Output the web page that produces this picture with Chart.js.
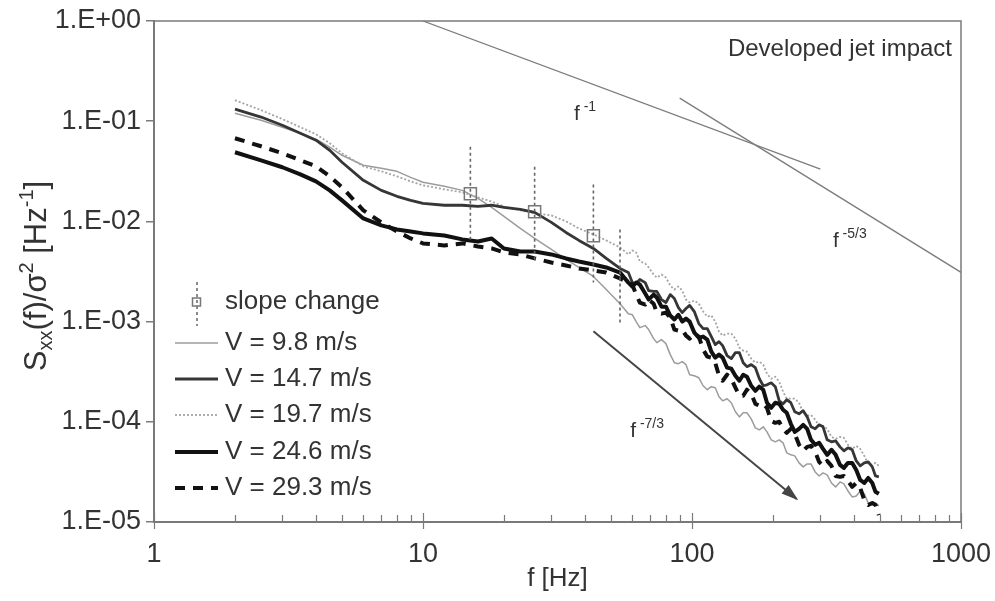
<!DOCTYPE html>
<html>
<head>
<meta charset="utf-8">
<title>Developed jet impact spectra</title>
<script src="https://cdn.jsdelivr.net/npm/chart.js@4.4.1/dist/chart.umd.min.js"></script>
<style>
  html, body { margin: 0; padding: 0; background: #fff; }
</style>
</head>
<body>
<canvas id="spectra" width="995" height="601"></canvas>
<script>
// values (f in Hz, S_xx/sigma^2 in 1/Hz)
const freq = [2, 2.5, 3, 3.5, 4, 4.5, 5, 6, 7, 8, 9, 10, 12, 14, 16, 18, 20, 23, 26, 30, 34, 38, 43, 48, 54,
  58, 60, 62, 64, 67, 69, 72, 74, 77, 80, 83, 86, 89, 92, 95, 98, 102, 106, 110, 114,
  118, 122, 126, 130, 135, 140, 145, 150, 155, 160, 166, 172, 178, 184, 190, 197, 204, 211, 218, 225,
  233, 241, 250, 259, 268, 277, 287, 297, 307, 318, 330, 342, 355, 367, 380, 394, 408, 422, 437, 452,
  468, 481, 495];

const v98 = [1.20e-1, 1.02e-1, 8.71e-2, 7.59e-2, 6.61e-2, 5.50e-2, 4.57e-2, 3.63e-2, 3.39e-2, 3.16e-2, 2.75e-2, 2.46e-2,
  2.24e-2, 2.04e-2, 1.70e-2, 1.38e-2, 1.12e-2, 8.51e-3, 6.76e-3, 5.25e-3, 4.17e-3, 3.47e-3, 2.82e-3, 2.09e-3, 1.51e-3,
  1.20e-3, 1.17e-3, 1.00e-3, 8.71e-4, 9.12e-4, 8.32e-4, 6.76e-4, 6.17e-4, 6.61e-4, 6.03e-4, 4.68e-4, 3.89e-4,
  3.80e-4, 3.98e-4, 3.72e-4, 2.95e-4, 2.88e-4, 2.75e-4, 2.29e-4, 2.09e-4, 2.24e-4, 2.19e-4, 1.78e-4, 1.62e-4,
  1.70e-4, 1.55e-4, 1.26e-4, 1.12e-4, 1.23e-4, 1.23e-4, 1.07e-4, 8.71e-5, 8.32e-5, 8.91e-5, 7.94e-5, 6.61e-5,
  6.31e-5, 6.61e-5, 6.17e-5, 4.90e-5, 4.68e-5, 4.57e-5, 3.89e-5, 3.55e-5, 3.80e-5, 3.80e-5, 3.16e-5, 2.88e-5,
  3.09e-5, 2.95e-5, 2.45e-5, 2.24e-5, 2.51e-5, 2.40e-5, 2.04e-5, 1.78e-5, 1.82e-5, 2.04e-5, 1.91e-5, 1.55e-5,
  1.48e-5, 1.55e-5, 1.45e-5];

const v147 = [1.32e-1, 1.10e-1, 9.12e-2, 7.59e-2, 6.46e-2, 5.13e-2, 3.89e-2, 2.57e-2, 2.04e-2, 1.78e-2, 1.62e-2, 1.51e-2,
  1.45e-2, 1.45e-2, 1.41e-2, 1.45e-2, 1.38e-2, 1.32e-2, 1.23e-2, 9.77e-3, 7.76e-3, 6.46e-3, 5.37e-3, 4.27e-3, 3.39e-3,
  3.09e-3, 2.45e-3, 2.40e-3, 2.63e-3, 2.45e-3, 2.04e-3, 2.00e-3, 2.00e-3, 1.66e-3, 1.55e-3, 1.86e-3, 1.70e-3,
  1.38e-3, 1.23e-3, 1.35e-3, 1.45e-3, 1.26e-3, 9.55e-4, 8.51e-4, 8.51e-4, 7.08e-4, 5.89e-4, 6.31e-4, 5.75e-4,
  4.57e-4, 4.27e-4, 4.90e-4, 4.90e-4, 3.89e-4, 3.55e-4, 3.72e-4, 3.47e-4, 2.69e-4, 2.29e-4, 2.34e-4, 2.45e-4,
  2.24e-4, 1.62e-4, 1.51e-4, 1.66e-4, 1.55e-4, 1.26e-4, 1.20e-4, 1.29e-4, 1.12e-4, 8.91e-5, 8.51e-5, 9.33e-5,
  8.91e-5, 6.61e-5, 6.31e-5, 6.46e-5, 5.62e-5, 5.13e-5, 5.50e-5, 5.25e-5, 4.07e-5, 3.63e-5, 3.89e-5, 3.98e-5,
  3.55e-5, 2.88e-5, 2.82e-5];

const v197 = [1.62e-1, 1.29e-1, 1.05e-1, 8.71e-2, 7.41e-2, 6.03e-2, 4.79e-2, 3.55e-2, 3.16e-2, 2.82e-2, 2.51e-2, 2.29e-2,
  2.09e-2, 1.95e-2, 1.74e-2, 1.58e-2, 1.41e-2, 1.29e-2, 1.20e-2, 1.15e-2, 1.00e-2, 8.51e-3, 7.41e-3, 6.46e-3, 5.50e-3,
  4.68e-3, 5.13e-3, 4.90e-3, 3.98e-3, 3.80e-3, 3.47e-3, 2.95e-3, 2.75e-3, 2.95e-3, 2.75e-3, 2.29e-3, 2.09e-3,
  2.24e-3, 2.04e-3, 1.66e-3, 1.55e-3, 1.62e-3, 1.51e-3, 1.26e-3, 1.12e-3, 1.15e-3, 1.00e-3, 7.94e-4, 7.24e-4,
  7.59e-4, 7.59e-4, 6.76e-4, 5.50e-4, 5.13e-4, 5.01e-4, 4.27e-4, 3.89e-4, 3.98e-4, 3.72e-4, 3.02e-4, 2.69e-4,
  2.82e-4, 2.51e-4, 2.00e-4, 1.70e-4, 1.70e-4, 1.70e-4, 1.55e-4, 1.23e-4, 1.15e-4, 1.17e-4, 1.05e-4, 9.12e-5,
  9.12e-5, 8.51e-5, 7.08e-5, 6.76e-5, 7.08e-5, 6.92e-5, 5.89e-5, 5.37e-5, 5.75e-5, 5.37e-5, 4.57e-5, 3.80e-5,
  3.72e-5, 3.89e-5, 3.63e-5];

const v246 = [4.90e-2, 4.07e-2, 3.47e-2, 2.95e-2, 2.51e-2, 2.04e-2, 1.62e-2, 1.07e-2, 9.12e-3, 8.32e-3, 7.94e-3, 7.59e-3,
  7.24e-3, 6.61e-3, 6.31e-3, 6.76e-3, 5.37e-3, 5.01e-3, 5.01e-3, 4.68e-3, 4.27e-3, 3.98e-3, 3.72e-3, 3.47e-3, 3.09e-3,
  2.45e-3, 2.24e-3, 2.45e-3, 2.34e-3, 1.91e-3, 1.66e-3, 1.86e-3, 1.74e-3, 1.41e-3, 1.41e-3, 1.15e-3, 1.05e-3,
  1.17e-3, 1.00e-3, 1.07e-3, 1.00e-3, 7.76e-4, 6.92e-4, 7.08e-4, 6.61e-4, 5.01e-4, 4.37e-4, 4.68e-4, 4.37e-4,
  3.47e-4, 3.39e-4, 2.88e-4, 2.57e-4, 2.95e-4, 2.82e-4, 2.29e-4, 2.04e-4, 2.24e-4, 2.09e-4, 1.55e-4, 1.38e-4,
  1.55e-4, 1.51e-4, 1.32e-4, 1.23e-4, 9.55e-5, 7.94e-5, 8.51e-5, 9.33e-5, 8.51e-5, 6.61e-5, 5.89e-5, 6.17e-5,
  5.37e-5, 4.68e-5, 5.25e-5, 4.68e-5, 3.72e-5, 3.47e-5, 3.89e-5, 3.89e-5, 3.31e-5, 2.63e-5, 2.45e-5, 2.75e-5,
  2.45e-5, 2.00e-5, 1.91e-5];

const v293 = [6.76e-2, 5.62e-2, 4.79e-2, 4.07e-2, 3.55e-2, 2.82e-2, 2.19e-2, 1.29e-2, 9.77e-3, 7.94e-3, 6.76e-3, 6.03e-3,
  5.75e-3, 6.03e-3, 5.62e-3, 5.37e-3, 4.90e-3, 4.68e-3, 4.27e-3, 3.89e-3, 3.63e-3, 3.39e-3, 3.24e-3, 3.09e-3, 2.69e-3,
  2.45e-3, 2.34e-3, 1.86e-3, 1.55e-3, 1.48e-3, 1.66e-3, 1.51e-3, 1.23e-3, 1.20e-3, 1.23e-3, 1.10e-3, 8.32e-4,
  8.13e-4, 8.32e-4, 7.24e-4, 6.76e-4, 7.59e-4, 7.08e-4, 5.25e-4, 4.47e-4, 4.37e-4, 3.89e-4, 2.88e-4, 2.57e-4,
  2.95e-4, 2.69e-4, 2.19e-4, 1.82e-4, 1.82e-4, 2.09e-4, 1.91e-4, 1.51e-4, 1.45e-4, 1.51e-4, 1.38e-4, 1.02e-4,
  9.77e-5, 1.00e-4, 8.51e-5, 7.76e-5, 8.51e-5, 7.59e-5, 5.89e-5, 5.13e-5, 5.62e-5, 5.75e-5, 5.01e-5, 3.98e-5,
  3.63e-5, 4.07e-5, 3.63e-5, 2.88e-5, 2.82e-5, 2.88e-5, 2.57e-5, 2.24e-5, 2.45e-5, 2.19e-5, 1.66e-5, 1.48e-5,
  1.55e-5, 1.48e-5, 1.17e-5];

// slope change markers: square + dashed range
const slopeF = [15, 26, 43, 54];
const slopeMid = [1.89e-2, 1.25e-2, 7.2e-3, null];
const slopeLo = [6.6e-3, 4.0e-3, 2.46e-3, 9.8e-4];
const slopeHi = [5.56e-2, 3.51e-2, 2.33e-2, 8.3e-3];

// reference power laws
const powM1F = [10, 300];
const powM1S = [1.0, 3.33e-2];
const powM53F = [90, 1000];
const powM53S = [1.7e-1, 3.1e-3];
const powM73F = [43, 245];
const powM73S = [8.0e-4, 1.7e-5];

const xTicks = [1, 2, 3, 4, 5, 6, 7, 8, 9, 10, 20, 30, 40, 50, 60, 70, 80, 90,
  100, 200, 300, 400, 500, 600, 700, 800, 900, 1000];
const xMajor = [1, 10, 100, 1000];
const yTicks = [1e-5, 1e-4, 1e-3, 1e-2, 1e-1, 1];
const yTickLabels = ['1.E-05', '1.E-04', '1.E-03', '1.E-02', '1.E-01', '1.E+00'];

const seriesNames = ['V = 9.8 m/s', 'V = 14.7 m/s', 'V = 19.7 m/s', 'V = 24.6 m/s', 'V = 29.3 m/s'];

// ---- styling ----
const FONT = "'Liberation Sans', Arial, Helvetica, sans-serif";
const TEXT = '#333';
const AXIS = '#7a7a7a';

const seriesStyle = [
  { color: '#9c9c9c', width: 1.5, dash: [] },
  { color: '#363636', width: 2.8, dash: [] },
  { color: '#a4a4a4', width: 1.8, dash: [2, 2] },
  { color: '#111111', width: 4, dash: [] },
  { color: '#111111', width: 4, dash: [10, 8] }
];
const seriesValues = [v98, v147, v197, v246, v293];

const pts = (xs, ys) => xs.map((x, i) => ({ x: x, y: ys[i] }));

const curves = seriesValues.map((vals, i) => ({
  label: seriesNames[i],
  data: pts(freq, vals),
  borderColor: seriesStyle[i].color,
  borderWidth: seriesStyle[i].width,
  borderDash: seriesStyle[i].dash,
  borderJoinStyle: 'round',
  pointRadius: 0,
  tension: 0
}));

const barPts = [];
slopeF.forEach((f, i) => {
  barPts.push({ x: f, y: slopeHi[i] }, { x: f, y: slopeLo[i] }, { x: f, y: null });
});

const refLine = (xs, ys, color, width) => ({
  data: pts(xs, ys), borderColor: color, borderWidth: width, pointRadius: 0, tension: 0
});

// first datasets end up on top
const datasets = [
  {
    label: 'slope change', data: pts(slopeF, slopeMid), showLine: false,
    pointStyle: 'rect', pointRadius: 8.5, pointBorderWidth: 1.5,
    pointBorderColor: '#777', pointBackgroundColor: 'rgba(0,0,0,0)'
  },
  {
    data: barPts, borderColor: '#666', borderWidth: 1.6, borderDash: [3, 3],
    pointRadius: 0, spanGaps: false
  },
  refLine(powM73F, powM73S, '#454545', 2),
  refLine(powM1F, powM1S, '#7d7d7d', 1.3),
  refLine(powM53F, powM53S, '#7d7d7d', 1.3),
  curves[4], curves[3], curves[1], curves[2], curves[0]
];
const ARROW_INDEX = 2;

function richText(ctx, parts, x, y, align) {
  let w = 0;
  parts.forEach(p => { ctx.font = p[1] + 'px ' + FONT; w += ctx.measureText(p[0]).width; });
  let cx = align === 'center' ? x - w / 2 : x;
  parts.forEach(p => {
    ctx.font = p[1] + 'px ' + FONT;
    ctx.fillText(p[0], cx, y + (p[2] || 0));
    cx += ctx.measureText(p[0]).width;
  });
}

const notes = [
  { parts: [['f', 21], [' -1', 14, -9]], f: 36.4, s: 1.03e-1 },
  { parts: [['f', 21], [' -5/3', 14, -9]], f: 334, s: 5.55e-3 },
  { parts: [['f', 21], [' -7/3', 14, -9]], f: 58.9, s: 7.05e-5 }
];

const legendRows = [302, 343, 379, 415, 452, 488];

const decor = {
  id: 'decor',
  afterDraw(chart) {
    const { ctx, chartArea: a, scales } = chart;
    const xs = scales.x, ys = scales.y;
    ctx.save();

    // frame
    ctx.strokeStyle = AXIS;
    ctx.lineWidth = 1.5;
    ctx.strokeRect(a.left, a.top, a.right - a.left, a.bottom - a.top);

    // x tick marks: minor inward, decades crossing
    ctx.lineWidth = 1.2;
    xTicks.forEach(v => {
      const px = Math.round(xs.getPixelForValue(v)) + 0.5;
      const major = xMajor.includes(v);
      ctx.beginPath();
      ctx.moveTo(px, a.bottom + (major ? 7 : 0));
      ctx.lineTo(px, a.bottom - (major ? 9 : 7));
      ctx.stroke();
    });

    // arrow head on the f^-7/3 line
    const m = chart.getDatasetMeta(ARROW_INDEX).data;
    const p0 = m[0], p1 = m[1];
    const ang = Math.atan2(p1.y - p0.y, p1.x - p0.x);
    const L = 15, W = 5.5;
    ctx.fillStyle = '#454545';
    ctx.beginPath();
    ctx.moveTo(p1.x + 2 * Math.cos(ang), p1.y + 2 * Math.sin(ang));
    ctx.lineTo(p1.x - L * Math.cos(ang) + W * Math.sin(ang), p1.y - L * Math.sin(ang) - W * Math.cos(ang));
    ctx.lineTo(p1.x - L * Math.cos(ang) - W * Math.sin(ang), p1.y - L * Math.sin(ang) + W * Math.cos(ang));
    ctx.closePath();
    ctx.fill();

    // power-law labels
    ctx.fillStyle = TEXT;
    ctx.textBaseline = 'alphabetic';
    ctx.textAlign = 'left';
    notes.forEach(n => {
      richText(ctx, n.parts, xs.getPixelForValue(n.f), ys.getPixelForValue(n.s), 'left');
    });

    // inset title
    ctx.font = '24px ' + FONT;
    ctx.textAlign = 'right';
    ctx.fillText('Developed jet impact', a.right - 9, a.top + 35);

    // y axis title with sub/superscripts
    ctx.save();
    ctx.translate(46, 276);
    ctx.rotate(-Math.PI / 2);
    ctx.textAlign = 'left';
    richText(ctx, [['S', 31], ['xx', 20, 6], ['(f)/σ', 31], ['2', 20, -13],
      [' [Hz', 31], ['-1', 20, -13], [']', 31]], 0, 0, 'center');
    ctx.restore();

    // legend
    ctx.textAlign = 'left';
    ctx.textBaseline = 'middle';
    ctx.font = '26px ' + FONT;
    const sx0 = 175, sx1 = 218, tx = 225;
    const cx = (sx0 + sx1) / 2;
    ctx.strokeStyle = '#666';
    ctx.lineWidth = 1.5;
    ctx.setLineDash([3, 3]);
    ctx.beginPath();
    ctx.moveTo(cx + 0.5, legendRows[0] - 20);
    ctx.lineTo(cx + 0.5, legendRows[0] + 24);
    ctx.stroke();
    ctx.setLineDash([]);
    ctx.strokeStyle = '#777';
    ctx.strokeRect(cx - 4, legendRows[0] - 4, 8, 8);
    ctx.fillText('slope change', tx, legendRows[0]);
    seriesNames.forEach((name, i) => {
      const st = seriesStyle[i];
      const yy = legendRows[i + 1];
      ctx.strokeStyle = st.color;
      ctx.lineWidth = st.width;
      ctx.setLineDash(st.dash);
      ctx.beginPath();
      ctx.moveTo(sx0, yy);
      ctx.lineTo(sx1, yy);
      ctx.stroke();
      ctx.setLineDash([]);
      ctx.fillText(name, tx, yy);
    });

    ctx.restore();
  }
};

Chart.defaults.font.family = FONT;
Chart.defaults.color = TEXT;

new Chart(document.getElementById('spectra'), {
  type: 'line',
  data: { datasets: datasets },
  plugins: [decor],
  options: {
    responsive: false,
    animation: false,
    devicePixelRatio: 1,
    layout: { padding: { left: 0, top: 21, right: 34, bottom: 0 } },
    plugins: { legend: { display: false }, tooltip: { enabled: false } },
    scales: {
      x: {
        type: 'logarithmic', min: 1, max: 1000,
        afterBuildTicks: s => { s.ticks = xTicks.map(v => ({ value: v })); },
        afterFit: s => { s.height = 79; s.paddingLeft = 0; s.paddingRight = 0; },
        grid: { display: false },
        border: { display: true, color: AXIS, width: 2 },
        ticks: {
          autoSkip: false, maxRotation: 0, padding: 8, color: TEXT,
          font: { size: 27 },
          callback: v => (xMajor.includes(v) ? String(v) : '')
        },
        title: { display: true, text: 'f [Hz]', color: TEXT, font: { size: 26 }, padding: { top: 0, bottom: 7 } }
      },
      y: {
        type: 'logarithmic', min: 1e-5, max: 1,
        afterBuildTicks: s => { s.ticks = yTicks.map(v => ({ value: v })); },
        afterFit: s => { s.width = 154; s.paddingTop = 0; s.paddingBottom = 0; },
        grid: { display: true, drawOnChartArea: false, drawTicks: true, tickLength: 8, color: AXIS, lineWidth: 1.5 },
        border: { display: true, color: AXIS, width: 2 },
        ticks: {
          autoSkip: false, padding: 5, color: TEXT, font: { size: 27 },
          callback: (v, i) => yTickLabels[i]
        }
      }
    }
  }
});
</script>
</body>
</html>
